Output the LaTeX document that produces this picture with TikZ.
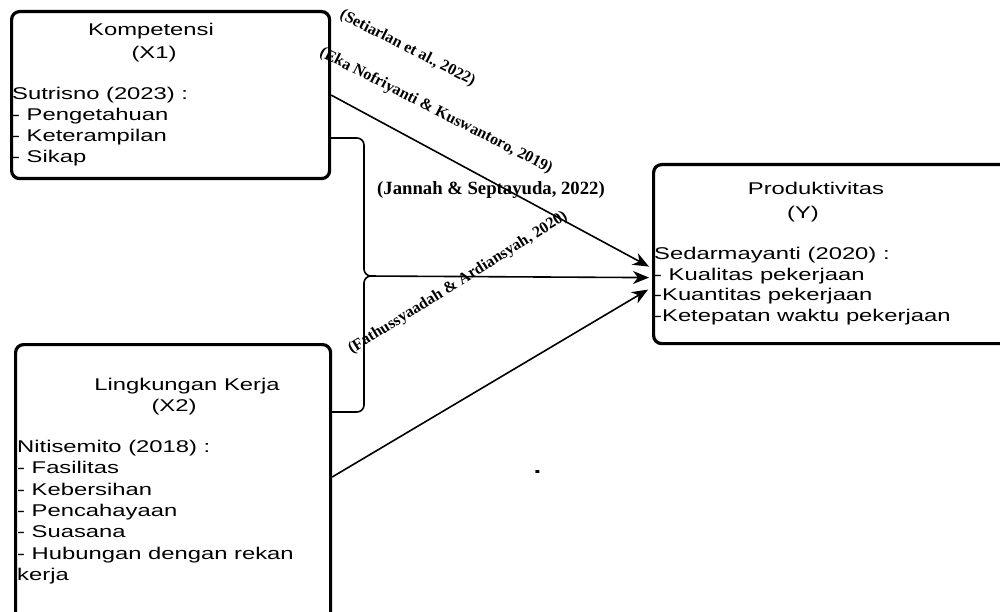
\documentclass[tikz,border=0pt]{standalone}
\usepackage{fontspec}
\setmainfont{Liberation Sans}
\newfontfamily\bx{Liberation Sans}[FakeStretch=1.4]
\newfontfamily\ct{Liberation Serif}
\usetikzlibrary{arrows.meta,calc}
\begin{document}
\begin{tikzpicture}[x=1pt,y={(0pt,-1pt)},
  box/.style={draw,line width=3.2pt,rounded corners=8pt,anchor=north west,inner sep=0pt},
  txt/.style={font=\bx\fontsize{17}{21}\selectfont,inner sep=0pt},
  lt/.style={txt,anchor=base west},
  ctr/.style={txt,anchor=base},
  cite/.style={font=\ct\bfseries\fontsize{16}{19}\selectfont,inner sep=0pt},
  conn/.style={line width=1.6pt},
  arr/.style={conn,-{Stealth[length=16pt,width=13pt,inset=5pt]}}]
\clip (0,0) rectangle (1000,612);
\fill[white] (0,0) rectangle (1000,612);
% boxes
\node[box,minimum width=318pt,minimum height=167pt] (x1) at (10,10) {};
\node[box,minimum width=315pt,minimum height=290pt] (x2) at (14,343) {};
\node[box,minimum width=370pt,minimum height=179pt] (yb) at (652,163) {};
% X1 text
\node[ctr] (x1t) at (151,36) {Kompetensi};
\node[ctr] (x1v) at (154,59) {(X1)};
\node[lt] (x1a) at (12,100) {Sutrisno (2023) :};
\node[lt] (x1b) at (12,120.7) {- Pengetahuan};
\node[lt] (x1c) at (12,141.7) {- Keterampilan};
\node[lt] (x1d) at (12,162.3) {- Sikap};
% X2 text
\node[ctr] (x2t) at (187,390.7) {Lingkungan Kerja};
\node[ctr] (x2v) at (174,411.7) {(X2)};
\node[lt] (x2a) at (17,452.7) {Nitisemito (2018) :};
\node[lt] (x2b) at (17,473.3) {- Fasilitas};
\node[lt] (x2c) at (17,495.7) {- Kebersihan};
\node[lt] (x2d) at (17,516.7) {- Pencahayaan};
\node[lt] (x2e) at (17,537.3) {- Suasana};
\node[lt] (x2f) at (17,559) {- Hubungan dengan rekan};
\node[lt] (x2g) at (17,580) {kerja};
% Y text
\node[ctr] (yt) at (816,194.3) {Produktivitas};
\node[ctr] (yv) at (803,218.3) {(Y)};
\node[lt] (ya) at (654,259.3) {Sedarmayanti (2020) :};
\node[lt] (yb1) at (654,280) {- Kualitas pekerjaan};
\node[lt] (yb2) at (654,300.7) {-Kuantitas pekerjaan};
\node[lt] (yb3) at (654,321) {-Ketepatan waktu pekerjaan};
% stray dot
\node[ctr,font=\bx\bfseries\fontsize{20}{20}\selectfont] (dot) at (537.5,473) {.};
% connectors
\coordinate (brace) at (364,276);
\draw[arr] (x1.east) -- ($(yb.west)+(-3,12.5)$);
\draw[arr,rounded corners=7pt] ($(x1.north east)+(0,128)$) -| (brace) -- ($(yb.west)+(-3,23.5)$);
\draw[conn,rounded corners=7pt] ($(x2.north east)+(0,69)$) -| (brace) -- ($(brace)+(12,0)$);
\draw[arr] ($(x2.north east)+(0,134)$) -- ($(yb.west)+(-4,35.5)$);
% citations
\node[cite,rotate=-27] (c1) at (407.5,48.5) {(Setiarlan et al., 2022)};
\node[cite,rotate=-27] (c2) at (436,111) {(Eka Nofriyanti \& Kuswantoro, 2019)};
\node[cite,font=\ct\bfseries\fontsize{18.7}{22}\selectfont,anchor=base west] (c3) at (377,195) {(Jannah \& Septayuda, 2022)};
\node[cite,rotate=32] (c4) at (458,283) {(Fathussyaadah \& Ardiansyah, 2020)};
\end{tikzpicture}
\end{document}
